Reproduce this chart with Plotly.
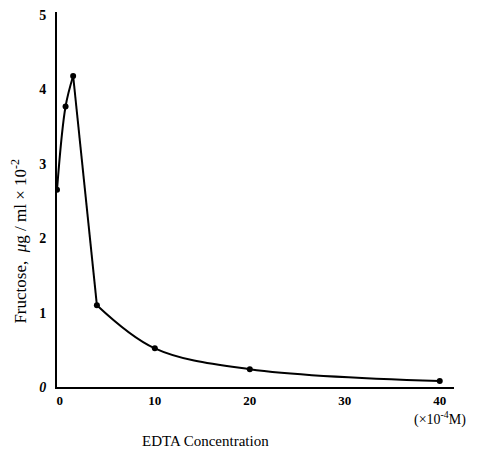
import plotly.graph_objects as go

# Data
edta = [-0.3, 0.6, 1.4, 3.9, 10, 20, 40]
fructose = [2.65, 3.77, 4.18, 1.1, 0.52, 0.24, 0.08]

x_tick_vals = [0, 10, 20, 30, 40]
x_tick_text = ["0", "10", "20", "30", "40"]
y_tick_vals = [0, 1, 2, 3, 4, 5]
y_tick_text = ["<i>0</i>", "1", "2", "3", "4", "5"]

serif = "Liberation Serif, Times New Roman, serif"

fig = go.Figure()
# rising part (smooth)
fig.add_trace(go.Scatter(x=edta[0:3], y=fructose[0:3], mode="lines",
                         line=dict(color="black", width=2, shape="spline", smoothing=1.0),
                         hoverinfo="skip", showlegend=False))
# sharp drop after peak
fig.add_trace(go.Scatter(x=edta[2:4], y=fructose[2:4], mode="lines",
                         line=dict(color="black", width=2),
                         hoverinfo="skip", showlegend=False))
# decay tail (smooth)
fig.add_trace(go.Scatter(x=edta[3:], y=fructose[3:], mode="lines",
                         line=dict(color="black", width=2, shape="spline", smoothing=1.0),
                         hoverinfo="skip", showlegend=False))
# data points
fig.add_trace(go.Scatter(x=edta, y=fructose, mode="markers",
                         marker=dict(color="black", size=6),
                         showlegend=False))

fig.add_annotation(text="(×10<sup>-4</sup>M)", x=0.965, y=-0.085, xref="paper", yref="paper",
                   showarrow=False, xanchor="center", yanchor="middle",
                   font=dict(family=serif, size=14, color="black"))
fig.add_annotation(text="EDTA Concentration", x=0.373, y=-0.145, xref="paper", yref="paper",
                   showarrow=False, xanchor="center", yanchor="middle",
                   font=dict(family=serif, size=15, color="black"))
fig.add_annotation(text="Fructose,  <i>μ</i>g / ml × 10<sup>-2</sup>", x=-0.098, y=0.388,
                   xref="paper", yref="paper", textangle=-90,
                   showarrow=False, xanchor="center", yanchor="middle",
                   font=dict(family=serif, size=17, color="black"))

fig.update_layout(
    width=478, height=449,
    margin=dict(l=57, r=24, t=8, b=62),
    paper_bgcolor="white", plot_bgcolor="white",
    xaxis=dict(range=[-0.3, 41.5], showline=True, linecolor="black", linewidth=2,
               showgrid=False, zeroline=False, ticks="",
               tickvals=x_tick_vals, ticktext=x_tick_text,
               tickfont=dict(family=serif, size=13, color="black", weight="bold"),
               ticklabelstandoff=0),
    yaxis=dict(range=[0, 5.04], showline=True, linecolor="black", linewidth=2,
               showgrid=False, zeroline=False, ticks="",
               tickvals=y_tick_vals, ticktext=y_tick_text,
               tickfont=dict(family=serif, size=14, color="black", weight="bold"),
               ticklabelstandoff=6),
)

fig.write_html("out.html", config={"displayModeBar": False},
               post_script="document.body.style.margin='0px';document.body.style.overflow='hidden';")
